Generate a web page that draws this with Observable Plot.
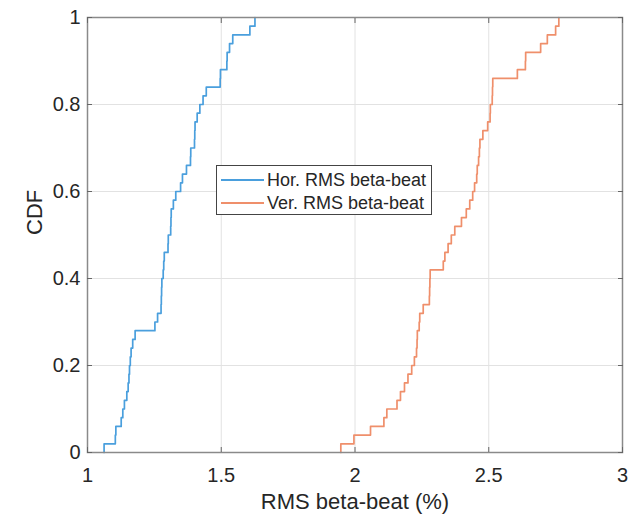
<!DOCTYPE html>
<html>
<head>
<meta charset="utf-8">
<script src="https://cdn.jsdelivr.net/npm/d3@7"></script>
<script src="https://cdn.jsdelivr.net/npm/@observablehq/plot@0.6"></script>
<style>
  html, body { margin: 0; padding: 0; background: #fff; }
  #wrap { position: relative; width: 633px; height: 515px; font-family: "Liberation Sans", Arial, sans-serif; }
  #legend { position: absolute; left: 216px; top: 165px; width: 216px; height: 50px; box-sizing: border-box;
            border: 1.5px solid #444; background: #fff; }
  .lg-line { position: absolute; left: 4px; width: 43px; height: 2px; }
  .lg-text { position: absolute; left: 50px; font-size: 18px; line-height: 20px; color: #262626; white-space: nowrap; }
</style>
</head>
<body>
<div id="wrap"></div>
<script>
// ---- data ----
const xTicks = [1, 1.5, 2, 2.5, 3];
const yTicks = [0, 0.2, 0.4, 0.6, 0.8, 1];
const seriesNames = ["Hor. RMS beta-beat", "Ver. RMS beta-beat"];
const seriesColors = ["#4a9fdd", "#ef8f6b"];
// sorted samples (50 each) of RMS beta-beat (%)
const horValues = [
  1.062, 1.104, 1.106, 1.126, 1.132, 1.138, 1.147, 1.152, 1.155, 1.157,
  1.160, 1.163, 1.169, 1.178, 1.252, 1.262, 1.275, 1.276, 1.277, 1.278,
  1.283, 1.285, 1.287, 1.301, 1.302, 1.311, 1.312, 1.313, 1.321, 1.330,
  1.348, 1.355, 1.370, 1.385, 1.386, 1.400, 1.401, 1.402, 1.410, 1.420,
  1.432, 1.444, 1.496, 1.497, 1.521, 1.522, 1.531, 1.543, 1.607, 1.626
];
const verValues = [
  1.947, 1.996, 2.058, 2.108, 2.119, 2.157, 2.170, 2.185, 2.198, 2.212,
  2.222, 2.230, 2.232, 2.233, 2.240, 2.242, 2.255, 2.278, 2.279, 2.280,
  2.281, 2.330, 2.336, 2.348, 2.360, 2.373, 2.398, 2.416, 2.429, 2.440,
  2.447, 2.455, 2.457, 2.462, 2.465, 2.467, 2.478, 2.496, 2.505, 2.506,
  2.513, 2.514, 2.515, 2.607, 2.637, 2.638, 2.694, 2.719, 2.750, 2.762
];

function ecdf(vals, name) {
  const n = vals.length;
  const pts = [{x: vals[0], y: 0, s: name}];
  vals.forEach((v, i) => pts.push({x: v, y: (i + 1) / n, s: name}));
  return pts;
}
const hor = ecdf(horValues, seriesNames[0]);
const ver = ecdf(verValues, seriesNames[1]);

const fmt = d => String(d);

const chart = Plot.plot({
  width: 633,
  height: 515,
  marginLeft: 87,
  marginRight: 11,
  marginTop: 17,
  marginBottom: 63,
  x: {domain: [1, 3]},
  y: {domain: [0, 1]},
  style: {fontFamily: "'Liberation Sans', Arial, sans-serif", color: "#262626", background: "#fff", overflow: "visible"},
  marks: [
    Plot.gridX(xTicks, {stroke: "#e2e2e2", strokeOpacity: 1, strokeWidth: 1}),
    Plot.gridY(yTicks, {stroke: "#e2e2e2", strokeOpacity: 1, strokeWidth: 1}),
    Plot.line(hor, {x: "x", y: "y", curve: "step-after", stroke: seriesColors[0], strokeWidth: 1.7}),
    Plot.line(ver, {x: "x", y: "y", curve: "step-after", stroke: seriesColors[1], strokeWidth: 1.7}),
    Plot.frame({stroke: "#8a8a8a", strokeWidth: 1.5}),
    Plot.axisX(xTicks, {anchor: "bottom", tickSize: 0, tickPadding: 15, fontSize: 20, tickFormat: fmt, label: null}),
    Plot.axisX(xTicks, {anchor: "bottom", tickSize: -5, tickFormat: () => "", label: null, stroke: "#666"}),
    Plot.axisX(xTicks, {anchor: "top", tickSize: -5, tickFormat: () => "", label: null, stroke: "#666"}),
    Plot.axisY(yTicks, {anchor: "left", tickSize: 0, tickPadding: 7, fontSize: 20, tickFormat: fmt, label: null}),
    Plot.axisY(yTicks, {anchor: "left", tickSize: -5, tickFormat: () => "", label: null, stroke: "#666"}),
    Plot.axisY(yTicks, {anchor: "right", tickSize: -5, tickFormat: () => "", label: null, stroke: "#666"}),
    Plot.text(["CDF"], {frameAnchor: "left", dx: -53, rotate: -90, fontSize: 22, fill: "#262626"}),
    Plot.text(["RMS beta-beat (%)"], {frameAnchor: "bottom", lineAnchor: "middle", dy: 49, fontSize: 22, fill: "#262626"})
  ]
});

const wrap = document.getElementById("wrap");
wrap.appendChild(chart);

const legend = document.createElement("div");
legend.id = "legend";
seriesNames.forEach((name, i) => {
  const cy = 14 + i * 22.7;
  const line = document.createElement("div");
  line.className = "lg-line";
  line.style.top = (cy - 1) + "px";
  line.style.background = seriesColors[i];
  const txt = document.createElement("div");
  txt.className = "lg-text";
  txt.style.top = (cy - 10) + "px";
  txt.textContent = name;
  legend.appendChild(line);
  legend.appendChild(txt);
});
wrap.appendChild(legend);
</script>
</body>
</html>
